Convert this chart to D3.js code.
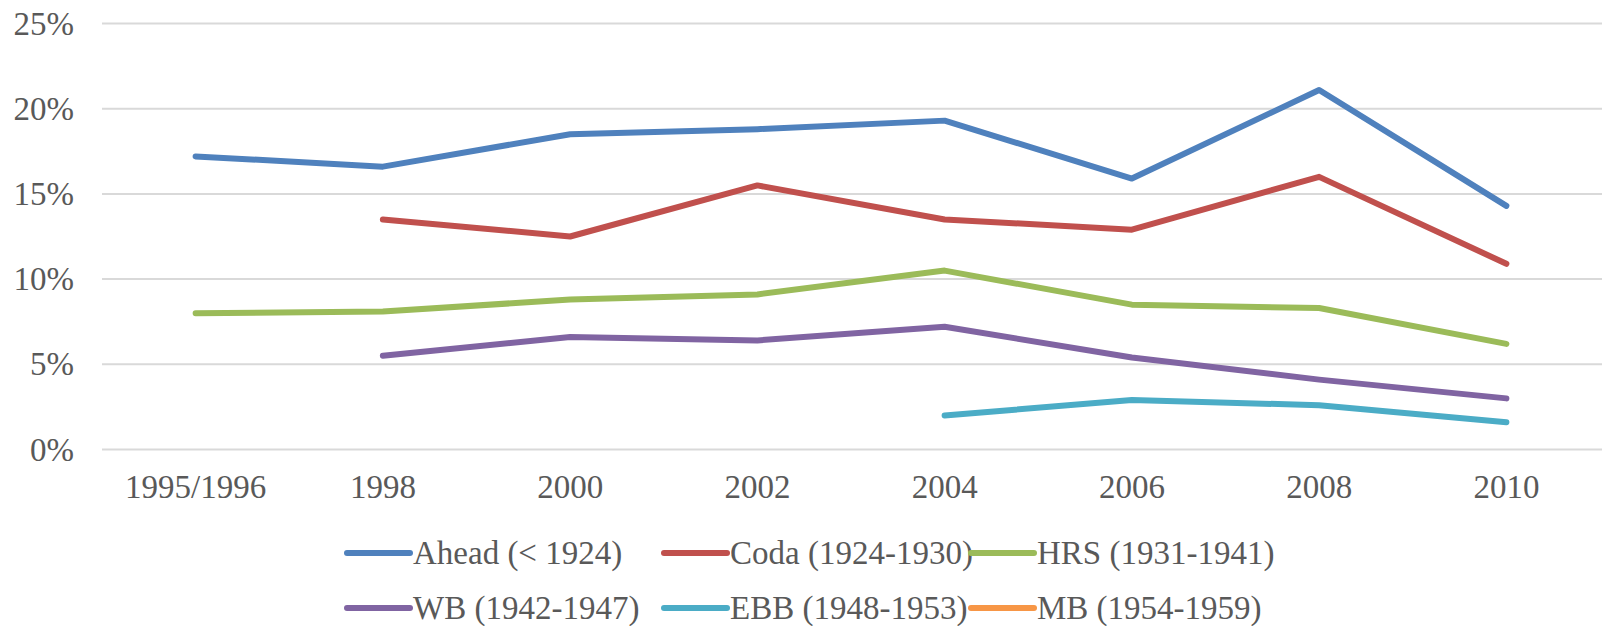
<!DOCTYPE html>
<html>
<head>
<meta charset="utf-8">
<script src="https://cdn.jsdelivr.net/npm/d3@7"></script>
<style>
  body { margin: 0; background: #fff; }
  svg text { font-family: "Liberation Serif", "Times New Roman", serif; fill: #595959; }
</style>
</head>
<body>
<div id="chart"></div>
<script>
var years = ["1995/1996", "1998", "2000", "2002", "2004", "2006", "2008", "2010"];
var yTicks = [0, 0.05, 0.10, 0.15, 0.20, 0.25];

var ahead = [17.2, 16.6, 18.5, 18.8, 19.3, 15.9, 21.1, 14.3];
var coda  = [null, 13.5, 12.5, 15.5, 13.5, 12.9, 16.0, 10.9];
var hrs   = [8.0, 8.1, 8.8, 9.1, 10.5, 8.5, 8.3, 6.2];
var wb    = [null, 5.5, 6.6, 6.4, 7.2, 5.4, 4.1, 3.0];
var ebb   = [null, null, null, null, 2.0, 2.9, 2.6, 1.6];
var mb    = [null, null, null, null, null, null, null, null];

var seriesNames = ["Ahead (< 1924)", "Coda (1924-1930)", "HRS (1931-1941)",
                   "WB (1942-1947)", "EBB (1948-1953)", "MB (1954-1959)"];
var seriesColors = ["#4F81BD", "#C0504D", "#9BBB59", "#8064A2", "#4BACC6", "#F79646"];
var seriesValues = [ahead, coda, hrs, wb, ebb, mb];

var width = 1602, height = 626,
    plotLeft = 102, plotRight = 1600, plotTop = 23.5, plotBottom = 449.5,
    fontSize = "33px",
    lineWidth = 6;

var svg = d3.select("#chart").append("svg")
    .attr("width", width)
    .attr("height", height);

var x = d3.scaleBand()
    .domain(years)
    .range([plotLeft, plotRight])
    .padding(0);

var y = d3.scaleLinear()
    .domain([0, 0.25])
    .range([plotBottom, plotTop]);

// gridlines
svg.append("g")
    .selectAll("line")
    .data(yTicks)
    .enter()
    .append("line")
    .attr("x1", plotLeft)
    .attr("x2", width)
    .attr("y1", function (d) { return y(d); })
    .attr("y2", function (d) { return y(d); })
    .style("stroke", "#D9D9D9")
    .style("stroke-width", 2);

// y axis
var yAxis = svg.append("g")
    .attr("transform", "translate(" + plotLeft + ",0)")
    .call(d3.axisLeft(y).tickValues(yTicks).tickFormat(d3.format(".0%")).tickSize(0).tickPadding(28));
yAxis.select(".domain").remove();
yAxis.selectAll("text")
    .style("font-size", fontSize)
    .style("font-family", "'Liberation Serif', serif")
    .style("fill", "#595959");

// x axis
var xAxis = svg.append("g")
    .attr("transform", "translate(0," + plotBottom + ")")
    .call(d3.axisBottom(x).tickSize(0).tickPadding(25));
xAxis.select(".domain").remove();
xAxis.selectAll("text")
    .style("font-size", fontSize)
    .style("font-family", "'Liberation Serif', serif")
    .style("fill", "#595959");

var line = d3.line()
    .defined(function (d) { return d !== null; })
    .x(function (d, i) { return x(years[i]) + x.bandwidth() / 2; })
    .y(function (d) { return y(d / 100); });

svg.append("g")
    .selectAll("path")
    .data(seriesValues)
    .enter()
    .append("path")
    .attr("d", line)
    .style("fill", "none")
    .style("stroke", function (d, i) { return seriesColors[i]; })
    .style("stroke-width", lineWidth)
    .style("stroke-linecap", "round")
    .style("stroke-linejoin", "round");

// legend
var legendCols = [347, 664, 971],
    legendRows = [553, 608],
    swatch = 63;

var legend = svg.append("g")
    .selectAll("g")
    .data(seriesNames)
    .enter()
    .append("g")
    .attr("transform", function (d, i) {
        return "translate(" + legendCols[i % 3] + "," + legendRows[Math.floor(i / 3)] + ")";
    });

legend.append("line")
    .attr("x1", 0)
    .attr("x2", swatch)
    .style("stroke", function (d, i) { return seriesColors[i]; })
    .style("stroke-width", lineWidth)
    .style("stroke-linecap", "round");

legend.append("text")
    .attr("x", swatch + 3)
    .attr("dy", "0.33em")
    .style("font-size", fontSize)
    .text(function (d) { return d; });
</script>
</body>
</html>
